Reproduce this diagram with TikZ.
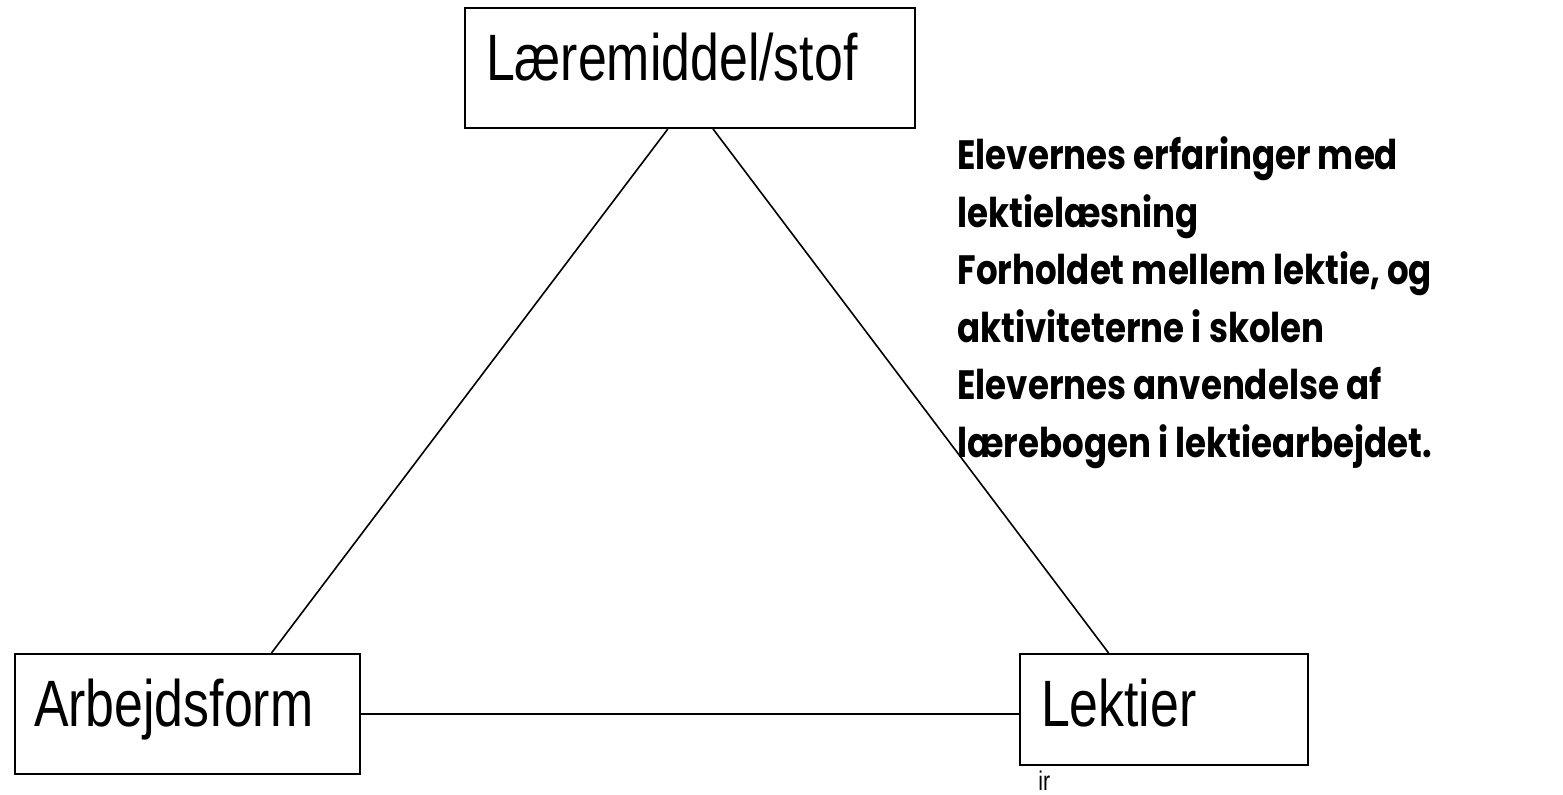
\documentclass[tikz,border=0pt]{standalone}
\usepackage{fontspec}
\usepackage{tikz}
\usetikzlibrary{calc,positioning}
\newfontfamily\boxfont[FakeStretch=0.79]{Liberation Sans}
\newfontfamily\notefont[FakeStretch=0.83]{Poppins}

\begin{document}
\begin{tikzpicture}[x=1pt,y=1pt,box/.style={draw,line width=1pt,rectangle,inner ysep=0pt,align=left,font=\boxfont\fontsize{32.8}{39}\selectfont},edge/.style={line width=0.8pt}]
\useasboundingbox (0,0) rectangle (781.5,397);

  \node[box,anchor=north west,inner xsep=10.5pt,text width=204pt,text height=36.5pt,text depth=23.5pt] (stof) at (232,393.5) {Læremiddel/stof};
  \node[box,anchor=north west,inner xsep=9.5pt,text width=153.5pt,text height=36pt,text depth=24pt] (arb) at (7,70.5) {Arbejdsform};
  \node[box,anchor=north west,inner xsep=10.5pt,text width=123pt,text height=36pt,text depth=19.5pt] (lek) at (509.5,70.5) {Lektier};

  \node[anchor=base west,inner sep=0pt,align=left,font=\notefont\bfseries\fontsize{20.5}{28.75}\selectfont] (note) at (478.5,168.5) {Elevernes erfaringer med\\lektielæsning\\Forholdet mellem lektie, og\\aktiviteterne i skolen\\Elevernes anvendelse af\\lærebogen i lektiearbejdet.};
  \node[anchor=base west,inner sep=0pt,font=\boxfont\fontsize{13.5}{15}\selectfont] (ir) at (519,2) {ir};

  \draw[edge] ($(stof.south west)!0.451!(stof.south east)$) -- ($(arb.north west)!0.742!(arb.north east)$);
  \draw[edge] ($(stof.south west)!0.551!(stof.south east)$) -- ($(lek.north west)!0.309!(lek.north east)$);
  \draw[edge] (arb.east) -- (arb.east -| lek.west);
 \end{tikzpicture}
\end{document}
